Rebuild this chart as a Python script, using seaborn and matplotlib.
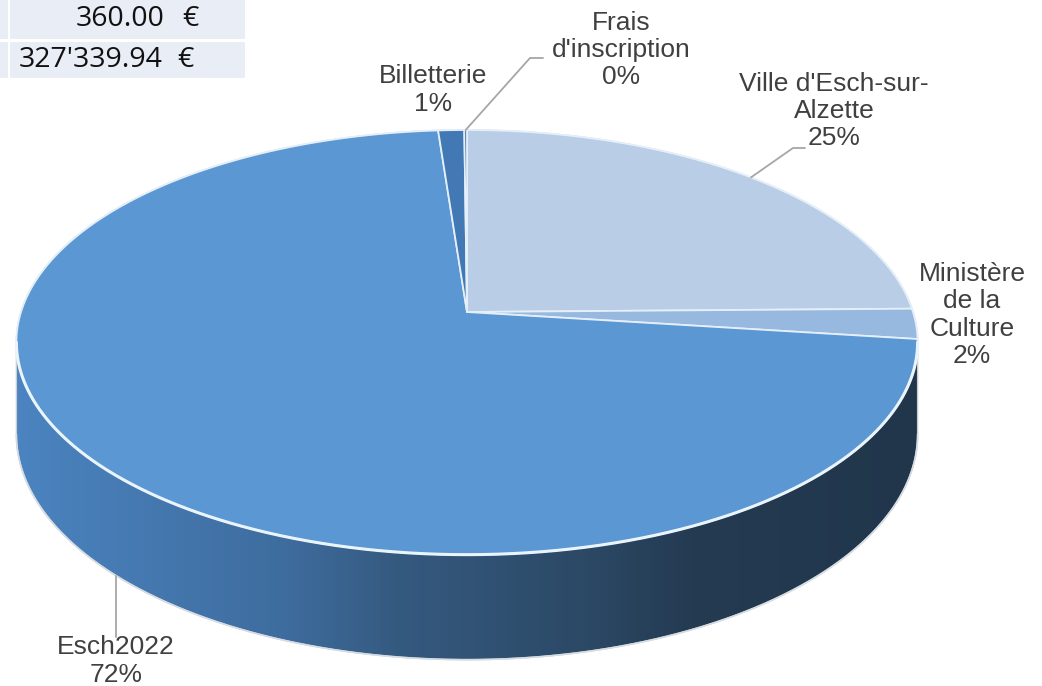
import numpy as np
import matplotlib
matplotlib.use("Agg")
import matplotlib.pyplot as plt
from matplotlib.patches import Polygon, Rectangle
from matplotlib.colors import LinearSegmentedColormap
import seaborn as sns

# ---------------- data ----------------
categories = ["Ville d'Esch-sur-Alzette", "Ministère de la Culture", "Esch2022",
              "Billetterie", "Frais d'inscription"]
label_names = ["Ville d'Esch-sur-\nAlzette", "Ministère\nde la\nCulture", "Esch2022",
               "Billetterie", "Frais\nd'inscription"]
amounts = [81000.00, 7500.00, 234979.94, 3500.00, 360.00]
table_values = [360.00, 327339.94]
slice_colors = ["#BACDE6", "#97B9DF", "#5A97D3", "#4279B4", "#2E5F8E"]

# ---------------- style ----------------
sns.set_theme(style="white")
plt.rcParams['font.family'] = ['Liberation Sans', 'DejaVu Sans']

fig = plt.figure(figsize=(10.42, 6.86), dpi=100)
ax = fig.add_axes([0, 0, 1, 1])

# perspective disk geometry (layout)
CX, CY, RX, RY, D, H = 467.0, 312.0, 446.0, 208.0, 7.0, 90.0


def proj(phi_deg, depth=0.0):
    p = np.radians(phi_deg)
    s = D / (D + np.sin(p))
    return CX + RX * np.cos(p) * s, CY - RY * np.sin(p) * s + depth * s


vals = np.array(amounts)
total = vals.sum()
fracs = vals / total
cum = np.concatenate([[0], np.cumsum(fracs)])
bounds = 90 - 360 * cum  # clockwise from 12 o'clock

# ---------------- side (cylinder wall) ----------------
phis = np.linspace(-180, 180, 7201)
xs, _ = proj(phis)
phiR = phis[np.argmax(xs)]
phiL = phis[np.argmin(xs)]
top_arc = np.linspace(phiR, phiL + 360, 900)
bot_arc = np.linspace(phiL, phiR, 900)
tx, ty = proj(top_arc)
bx, by = proj(bot_arc, H)
hull = np.column_stack([np.concatenate([tx, bx]), np.concatenate([ty, by])])
ax.add_patch(Polygon(hull, closed=True, facecolor='none', edgecolor='#C9CDD2',
                     lw=1.0, zorder=1.5))

side_cmap = LinearSegmentedColormap.from_list(
    "side", [(0.0, sns.desaturate("#4B84C0", 1.0)), (0.30, "#3E6C9E"),
             (0.42, "#355A80"), (0.63, "#2C4966"), (0.75, "#243B52"),
             (1.0, "#21364B")])
grad = np.linspace(0, 1, 256).reshape(1, -1)
im = ax.imshow(grad, cmap=side_cmap, aspect='auto',
               extent=[xs.min(), xs.max(), by.max() + 2, ty.min()], zorder=1)
im.set_clip_path(Polygon(hull, closed=True, transform=ax.transData))

# ---------------- top face slices ----------------
for i in range(len(vals)):
    a0, a1 = bounds[i], bounds[i + 1]
    n = max(int(abs(a0 - a1) * 4), 3)
    arc = np.linspace(a0, a1, n)
    px, py = proj(arc)
    pts = np.column_stack([np.concatenate([[CX], px]), np.concatenate([[CY], py])])
    ax.add_patch(Polygon(pts, closed=True, facecolor=slice_colors[i],
                         edgecolor='#E4EFFA', lw=1.3, joinstyle='round', zorder=2))

# front rim highlight (top edge over the wall)
rim = np.linspace(phiL, phiR, 900)
rx_, ry_ = proj(rim)
ax.plot(rx_, ry_, color='#EAF4FD', lw=2.2, zorder=3, solid_capstyle='round')
ax.plot(bx, by, color='#D5DCE3', lw=1.2, zorder=3)

# ---------------- labels ----------------
txt_kw = dict(fontsize=19, color='#404040', ha='center', va='center',
              linespacing=1.18, zorder=5)
pct = [f"{int(round(100 * f))}%" for f in fracs]
label_pos = {0: (834, 111), 1: (972, 315), 2: (116, 661), 3: (433, 90), 4: (621, 50)}
for i, (lx, ly) in label_pos.items():
    ax.text(lx, ly, f"{label_names[i]}\n{pct[i]}", **txt_kw)

mid = (bounds[:-1] + bounds[1:]) / 2
lead_kw = dict(color='#A6A6A6', lw=1.3, zorder=4)
# Frais d'inscription
fx, fy = proj(mid[4])
ax.plot([fx, 530, 543], [fy, 58, 58], **lead_kw)
# Ville
vx, vy = proj(mid[0])
ax.plot([vx, 793, 805], [vy, 148, 148], **lead_kw)
# Esch2022: vertical leader from label up to the wall's lower edge
lead_x = label_pos[2][0]
order = np.argsort(bx)
edge_y = np.interp(lead_x, bx[order], by[order])
ax.plot([lead_x, lead_x], [edge_y, 637], **lead_kw)

# ---------------- table fragment ----------------
cell_col = '#E9EDF6'
rows_y = [(0, 39), (42, 78)]
num_right = [165, 163]
euro_x = [190, 185]
for (y0, y1) in rows_y:
    ax.add_patch(Rectangle((0, y0), 8, y1 - y0, facecolor=cell_col, edgecolor='none', zorder=1))
    ax.add_patch(Rectangle((10, y0), 235, y1 - y0, facecolor=cell_col, edgecolor='none', zorder=1))
for v, (y0, y1), nr, ex_ in zip(table_values, rows_y, num_right, euro_x):
    s = f"{v:,.2f}".replace(",", "'")
    yc = (y0 + y1) / 2
    ax.text(nr, yc, s, fontsize=20.5, family=['Open Sans', 'DejaVu Sans'],
            color='#111111', ha='right', va='center', zorder=5)
    ax.text(ex_, yc, "€", fontsize=20.5, family=['Open Sans', 'DejaVu Sans'],
            color='#111111', ha='center', va='center', zorder=5)

ax.set_xlim(0, 1042)
ax.set_ylim(686, 0)
ax.axis('off')
fig.savefig("out.png", dpi=100)
